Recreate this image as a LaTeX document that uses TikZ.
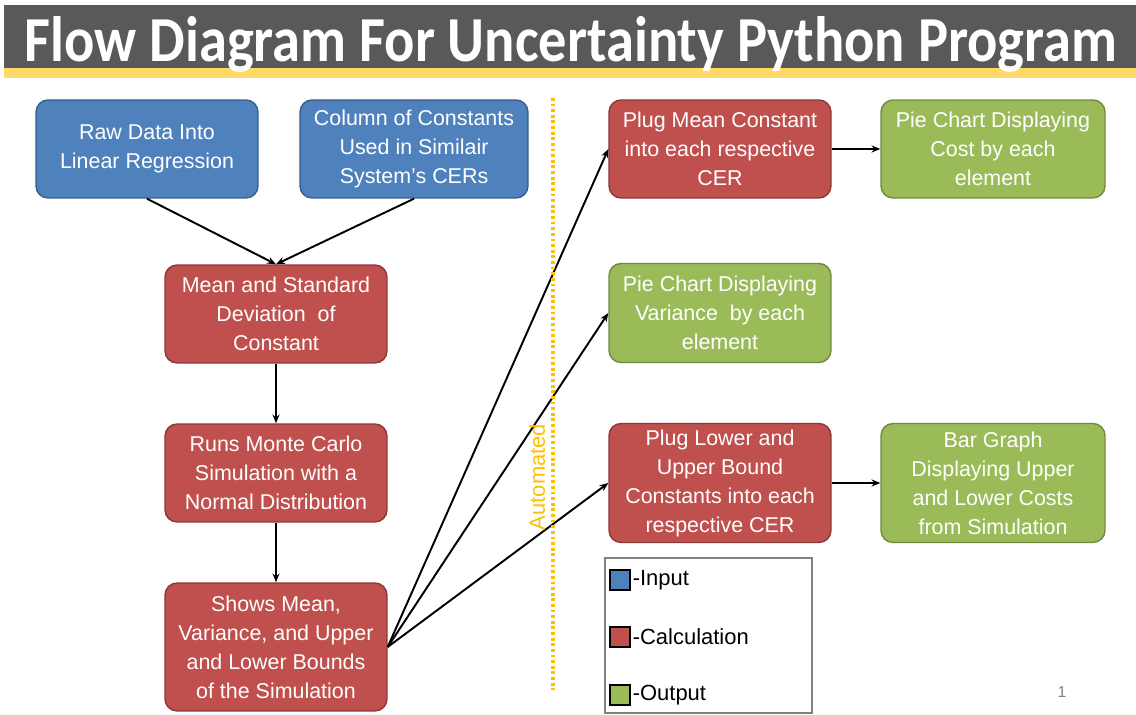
\documentclass[tikz,border=0pt]{standalone}
\usepackage{fontspec}
\setmainfont{Liberation Sans}
\newfontfamily\titlefont{Carlito}
\usetikzlibrary{arrows.meta}

\definecolor{inblue}{RGB}{79,129,189}
\definecolor{inblueline}{RGB}{56,93,138}
\definecolor{calcred}{RGB}{192,80,77}
\definecolor{calcredline}{RGB}{140,56,54}
\definecolor{outgreen}{RGB}{155,187,89}
\definecolor{outgreenline}{RGB}{113,137,63}
\definecolor{bandgray}{RGB}{89,89,89}
\definecolor{bandyellow}{RGB}{255,217,102}
\definecolor{autoorange}{RGB}{255,192,0}

\tikzset{
  flowbox/.style={rectangle, rounded corners=0.24cm, thick, text=white, align=center,
    font=\fontsize{12.2}{16.5}\selectfont, inner sep=2pt},
  inbox/.style={flowbox, draw=inblueline, fill=inblue},
  calcbox/.style={flowbox, draw=calcredline, fill=calcred},
  outbox/.style={flowbox, draw=outgreenline, fill=outgreen},
  keybox/.style={rectangle, draw=black, thick, minimum size=0.4cm, inner sep=0pt},
  flow/.style={-{Stealth[length=5pt,width=4pt]}, line width=1.1pt}
}

\begin{document}
\begin{tikzpicture}[x=0.02cm, y=-0.02cm]
\useasboundingbox (0,0) rectangle (1136,715);

% title band
\fill[bandgray] (4,5) rectangle (1136,68);
\fill[bandyellow] (4,68) rectangle (1136,78);
\node[anchor=base, text=white, inner sep=0pt] (title) at (571,62)
  {\resizebox{21.85cm}{0.9cm}{\titlefont\bfseries Flow Diagram For Uncertainty Python Program}};

% inputs
\node[inbox, minimum width=4.44cm, minimum height=1.96cm] (raw) at (147,149) {Raw Data Into\\Linear Regression};
\node[inbox, minimum width=4.56cm, minimum height=1.96cm] (col) at (414,149) {Column of Constants\\Used in Similair\\System's CERs};

% calculation chain
\node[calcbox, minimum width=4.44cm, minimum height=1.96cm] (mean) at (276,314) {Mean and Standard\\Deviation\ \ of\\Constant};
\node[calcbox, minimum width=4.44cm, minimum height=1.96cm] (runs) at (276,473) {Runs Monte Carlo\\Simulation with a\\Normal Distribution};
\node[calcbox, minimum width=4.44cm, minimum height=2.56cm] (shows) at (276,647) {Shows Mean,\\Variance, and Upper\\and Lower Bounds\\of the Simulation};

% automated side
\node[calcbox, minimum width=4.44cm, minimum height=1.96cm] (plugmean) at (720,149) {Plug Mean Constant\\into each respective\\CER};
\node[outbox, minimum width=4.48cm, minimum height=1.96cm] (piecost) at (993,149) {Pie Chart Displaying\\Cost by each\\element};
\node[outbox, minimum width=4.44cm, minimum height=1.98cm] (pievar) at (720,313) {Pie Chart Displaying\\Variance\ \ by each\\element};
\node[calcbox, minimum width=4.44cm, minimum height=2.38cm] (pluglow) at (720,483) {Plug Lower and\\Upper Bound\\Constants into each\\respective CER};
\node[outbox, minimum width=4.48cm, minimum height=2.38cm] (bar) at (993,483) {Bar Graph\\Displaying Upper\\and Lower Costs\\from Simulation};

% connectors
\draw[flow] (raw.south) -- (mean.north);
\draw[flow] (col.south) -- (mean.north);
\draw[flow] (mean) -- (runs);
\draw[flow] (runs) -- (shows);
\draw[flow] (shows.east) -- (plugmean.west);
\draw[flow] (shows.east) -- (pievar.west);
\draw[flow] (shows.east) -- (pluglow.west);
\draw[flow] (plugmean) -- (piecost);
\draw[flow] (pluglow) -- (bar);

% automated divider
\draw[autoorange, line width=2pt, dash pattern=on 1.6pt off 1.6pt] (553,98) -- (553,690);
\node[rotate=90, text=autoorange, font=\fontsize{12.5}{15}\selectfont] (auto) at (537,477) {Automated};

% legend
\draw[gray, line width=0.6pt] (605,558) rectangle (812,713);
\node[keybox, fill=inblue, label={[font=\fontsize{12.5}{15}\selectfont, inner sep=1pt]right:-Input}] (keyin) at (620,580) {};
\node[keybox, fill=calcred, label={[font=\fontsize{12.5}{15}\selectfont, inner sep=1pt]right:-Calculation}] (keycalc) at (620,637) {};
\node[keybox, fill=outgreen, label={[font=\fontsize{12.5}{15}\selectfont, inner sep=1pt]right:-Output}] (keyout) at (620,695) {};

% slide number
\node[text=gray, font=\small] (pagenum) at (1062,692) {1};
\end{tikzpicture}
\end{document}
